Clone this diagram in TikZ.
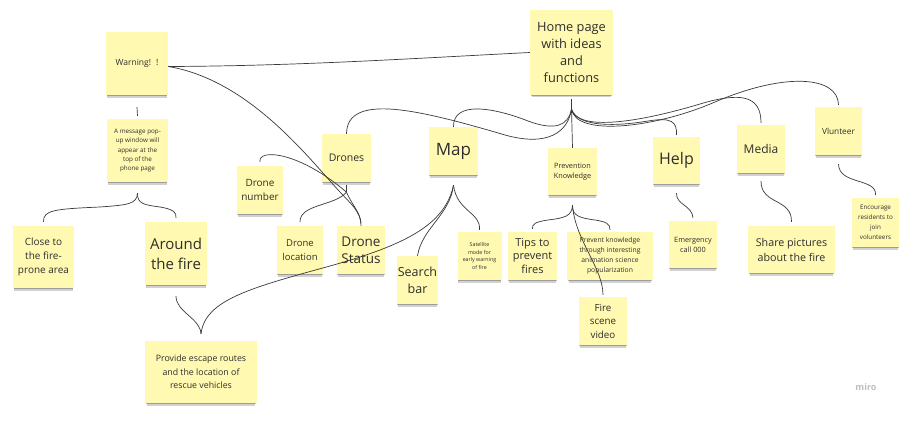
\documentclass[tikz,border=0pt]{standalone}
\usepackage{fontspec}
\setmainfont{Open Sans}
\usetikzlibrary{shadows}
\definecolor{stickyfill}{HTML}{FFF9B1}
\definecolor{textc}{HTML}{2E2E2E}
\definecolor{linec}{HTML}{3A3A3A}
\newcommand{\fs}[2]{\fontsize{#1}{#2}\selectfont}
\tikzset{
  sticky/.style={draw=none, fill=stickyfill, align=center, inner sep=1pt, text=textc,
    drop shadow={shadow xshift=0pt, shadow yshift=-4pt, shadow scale=0.96, opacity=0.18, fill=black},
    drop shadow={shadow xshift=0pt, shadow yshift=-2pt, shadow scale=0.98, opacity=0.25, fill=black}},
  conn/.style={draw=linec, line width=0.7pt},
}
\begin{document}
\begin{tikzpicture}[x=1pt,y=-1pt]
\fill[white] (0,0) rectangle (906,423);
\useasboundingbox (0,0) rectangle (906,423);

% sticky notes
\node[sticky, minimum width=62, minimum height=63, font={\fs{8.5}{11}}] (warn) at (137,63.5) {Warning!\hspace{5pt}!};
\node[sticky, minimum width=61, minimum height=63, font={\fs{6.3}{9.3}}] (popup) at (137.5,150.5) {A message pop-\\up window will\\appear at the\\top of the\\phone page};
\node[sticky, minimum width=61, minimum height=62, font={\fs{10}{14}}] (close) at (43.5,257) {Close to\\the fire-\\prone area};
\node[sticky, minimum width=62, minimum height=63, font={\fs{15}{20}}] (around) at (176,253.5) {Around\\the fire};
\node[sticky, minimum width=46, minimum height=48, font={\fs{10}{14}}] (dnum) at (260,190) {Drone\\number};
\node[sticky, minimum width=49, minimum height=48, font={\fs{10.5}{13}}] (drones) at (346.5,158) {Drones};
\node[sticky, minimum width=49, minimum height=48, font={\fs{17}{20}}] (map) at (453.5,151) {Map};
\node[sticky, minimum width=46, minimum height=48, font={\fs{9.5}{14}}] (dloc) at (300,250) {Drone\\location};
\node[sticky, minimum width=48, minimum height=48, font={\fs{13.5}{17}}] (dstat) at (361,250) {Drone\\Status};
\node[sticky, minimum width=39, minimum height=48, font={\fs{12.5}{17}}] (search) at (417.5,280) {Search\\bar};
\node[sticky, minimum width=44, minimum height=48, font={\fs{5.3}{7.5}}] (sat) at (479.5,256) {Satellite\\mode for\\early warning\\of fire};
\node[sticky, minimum width=83, minimum height=85, font={\fs{12.8}{17}}] (home) at (571.5,52.5) {Home page\\with ideas\\and\\functions};
\node[sticky, minimum width=49, minimum height=47, font={\fs{7.3}{10.5}}] (prev) at (572.5,171.5) {Prevention\\Knowledge};
\node[sticky, minimum width=49, minimum height=48, font={\fs{11}{13.5}}] (tips) at (532.5,256) {Tips to\\prevent\\fires};
\node[sticky, minimum width=86, minimum height=48, font={\fs{6.8}{10}}] (pknow) at (610,256) {Prevent knowledge\\through interesting\\animation science\\popularization};
\node[sticky, minimum width=48, minimum height=48, font={\fs{9.8}{13.5}}] (fire) at (603,321) {Fire\\scene\\video};
\node[sticky, minimum width=47, minimum height=47, font={\fs{16}{19}}] (help) at (676.5,160.5) {Help};
\node[sticky, minimum width=48, minimum height=47, font={\fs{7.3}{10}}] (emerg) at (693,244.5) {Emergency\\call 000};
\node[sticky, minimum width=48, minimum height=48, font={\fs{12}{15}}] (media) at (761,149) {Media};
\node[sticky, minimum width=87, minimum height=47, font={\fs{10.7}{15}}] (share) at (791.5,249.5) {Share pictures\\about the fire};
\node[sticky, minimum width=47, minimum height=48, font={\fs{8.3}{11}}] (vol) at (838.5,131) {Vlunteer};
\node[sticky, minimum width=47, minimum height=49, font={\fs{6.3}{10}}] (enc) at (875.5,222.5) {Encourage\\residents to\\join\\volunteers};
\node[sticky, minimum width=112, minimum height=62, font={\fs{8.8}{13.5}}] (provide) at (201,372) {Provide escape routes\\and the location of\\rescue vehicles};

\node[text=black!25, font={\fs{9}{10}\bfseries}] (miro) at (866,387) {miro};

% hubs
\coordinate (homehub) at ([yshift=-14pt]home.south);
\coordinate (dronehub) at ([yshift=-10pt]drones.south);
\coordinate (maphub) at ([yshift=-10pt]map.south);
\coordinate (pophub) at ([yshift=-11pt]popup.south);
\coordinate (prevhub) at ([yshift=-10pt]prev.south);
\coordinate (prhub) at ([yshift=7pt]provide.north);

% connectors
\draw[conn] ([yshift=-3pt]warn.east) .. controls (300,66) and (420,58) .. (home.west);
\draw[conn] ([yshift=-3pt]warn.east) .. controls (250,80) and (310,160) .. (340,192) .. controls (352,205) and (361,212) .. (dstat.north);
\draw[conn] ([yshift=-12pt]warn.south) -- ([yshift=3pt]popup.north);
\draw[conn] (pophub) .. controls (137,204) and (128,205) .. (100,207) .. controls (55,209) and (43,210) .. ([yshift=4pt]close.north);
\draw[conn] (pophub) .. controls (137,204) and (145,205) .. (160,207) .. controls (172,209) and (177,212) .. ([yshift=4pt]around.north);
\draw[conn] ([yshift=-11pt]around.south) .. controls (176,312) and (200,318) .. (prhub);
\draw[conn] (maphub) .. controls (445,225) and (405,245) .. (330,266) .. controls (250,288) and (205,300) .. (prhub);

\draw[conn] ([yshift=-3pt]drones.south) -- (dronehub);
\draw[conn] ([yshift=4pt]dnum.north) .. controls (258,148) and (300,152) .. (dronehub);
\draw[conn] (dronehub) .. controls (335,206) and (300,204) .. ([yshift=4pt]dloc.north);
\draw[conn] (dronehub) .. controls (352,205) and (360,212) .. ([yshift=3pt]dstat.north);

\draw[conn] (maphub) .. controls (450,215) and (422,228) .. (search.north);
\draw[conn] (maphub) .. controls (457,212) and (481,212) .. ([yshift=2pt]sat.north);

\draw[conn] ([yshift=-4pt]home.south) -- (homehub) -- (prev.north);
\draw[conn] (drones.north) .. controls (347,92) and (420,110) .. (505,135) .. controls (548,147) and (568,132) .. (homehub);
\draw[conn] (map.north) .. controls (453,100) and (495,108) .. (528,121) .. controls (555,131) and (568,126) .. (homehub);
\draw[conn] (homehub) .. controls (578,128) and (618,126) .. (648,121) .. controls (672,117) and (677,122) .. ([yshift=2pt]help.north);
\draw[conn] (homehub) .. controls (578,132) and (640,122) .. (700,104) .. controls (740,92) and (761,95) .. ([yshift=2pt]media.north);
\draw[conn] (homehub) .. controls (576,137) and (655,128) .. (715,102) .. controls (785,72) and (838,76) .. ([yshift=2pt]vol.north);

\draw[conn] (prevhub) .. controls (572,216) and (565,218) .. (548,220) .. controls (535,222) and (532,224) .. ([yshift=3pt]tips.north);
\draw[conn] (prevhub) .. controls (572,216) and (580,218) .. (595,220) .. controls (607,222) and (610,224) .. ([yshift=2pt]pknow.north);
\draw[conn] (prevhub) .. controls (575,240) and (603,268) .. ([yshift=2pt]fire.north);

\draw[conn] ([yshift=-9pt]help.south) .. controls (676,205) and (692,205) .. ([yshift=3pt]emerg.north);
\draw[conn] ([yshift=-8pt]media.south) .. controls (761,205) and (792,198) .. ([yshift=4pt]share.north);
\draw[conn] ([yshift=-9pt]vol.south) .. controls (839,185) and (877,178) .. ([yshift=3pt]enc.north);
\end{tikzpicture}
\end{document}
